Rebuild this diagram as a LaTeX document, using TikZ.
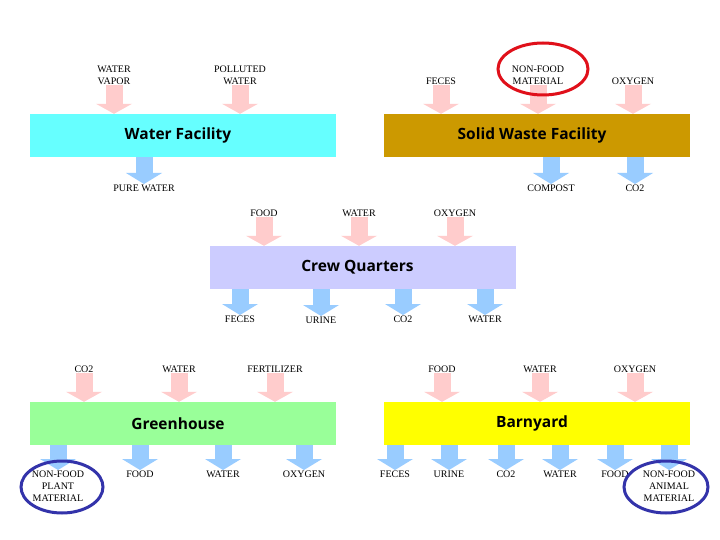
\documentclass[tikz,border=0pt]{standalone}
\usepackage{fontspec}
\setmainfont{Liberation Serif}
\newfontfamily\titlefont{Open Sans}
\usetikzlibrary{arrows.meta}

\definecolor{inpink}{RGB}{255,204,204}
\definecolor{outblue}{RGB}{153,204,255}
\definecolor{watercyan}{RGB}{102,255,255}
\definecolor{wastebrown}{RGB}{204,153,0}
\definecolor{crewlilac}{RGB}{204,204,255}
\definecolor{greenlight}{RGB}{153,255,153}
\definecolor{barnyellow}{RGB}{255,255,0}
\definecolor{ringred}{RGB}{224,16,26}
\definecolor{ringblue}{RGB}{51,51,170}

\tikzset{
  facility/.style={minimum width=306pt, minimum height=43pt, inner sep=0pt,
    font=\titlefont\bfseries\fontsize{15.5}{18}\selectfont},
  inlabel/.style={anchor=south, align=center, inner sep=0.5pt,
    font=\fontsize{10}{12}\selectfont},
  outlabel/.style={anchor=north, align=center, inner sep=0.5pt,
    font=\fontsize{10}{12}\selectfont},
  inflow/.style={color=inpink, line width=17pt,
    -{Triangle[width=36pt,length=10pt,line width=0pt]}},
  outflow/.style={color=outblue, line width=17pt,
    -{Triangle[width=36pt,length=11pt,line width=0pt]}},
  ring/.style={line width=3pt}
}
% title set a little left of the box centre
\newcommand{\boxtitle}[1]{\kern-10pt#1}

\begin{document}
\begin{tikzpicture}[x=1pt,y=-1pt]
\useasboundingbox (0,0) rectangle (720,540);
\fill[white] (0,0) rectangle (720,540);

% facilities
\node[facility, fill=watercyan] (wf) at (183,135.5) {\boxtitle{Water Facility}};
\node[facility, fill=wastebrown] (swf) at (537,135.5) {\boxtitle{Solid Waste Facility}};
\node[facility, fill=crewlilac] (cq) at (362.5,267.5) {\boxtitle{Crew Quarters}};
\node[facility, fill=greenlight] (gh) at (183,423.5) {\boxtitle{Greenhouse}};
\node[facility, fill=barnyellow] (by) at (537,423.5) {\boxtitle{Barnyard}};

% water facility
\node[inlabel] (wfvapor) at (114,85) {WATER\\VAPOR};
\node[inlabel] (wfpolluted) at (240,85) {POLLUTED\\WATER};
\node[outlabel] (wfpure) at (144,184) {PURE WATER};
\draw[inflow] (wfvapor.south) -- (wfvapor.south |- wf.north);
\draw[inflow] (wfpolluted.south) -- (wfpolluted.south |- wf.north);
\draw[outflow] (wfpure.north |- wf.south) -- (wfpure.north);

% solid waste facility
\node[inlabel] (swfeces) at (441,85) {FECES};
\node[inlabel] (swnonfood) at (538,85) {NON-FOOD\\MATERIAL};
\node[inlabel] (swoxygen) at (633,85) {OXYGEN};
\node[outlabel] (swcompost) at (551,184) {COMPOST};
\node[outlabel] (swco) at (635,184) {CO2};
\draw[inflow] (swfeces.south) -- (swfeces.south |- swf.north);
\draw[inflow] (swnonfood.south) -- (swnonfood.south |- swf.north);
\draw[inflow] (swoxygen.south) -- (swoxygen.south |- swf.north);
\draw[outflow] (swcompost.north |- swf.south) -- (swcompost.north);
\draw[outflow] (swco.north |- swf.south) -- (swco.north);

% crew quarters
\node[inlabel] (cqfood) at (264,217) {FOOD};
\node[inlabel] (cqwater) at (359,217) {WATER};
\node[inlabel] (cqoxygen) at (455,217) {OXYGEN};
\node[outlabel] (cqfeces) at (240,315) {FECES};
\node[outlabel] (cqurine) at (321,316) {URINE};
\node[outlabel] (cqco) at (403,315) {CO2};
\node[outlabel] (cqwaterout) at (485,315) {WATER};
\draw[inflow] (cqfood.south) -- (cqfood.south |- cq.north);
\draw[inflow] (cqwater.south) -- (cqwater.south |- cq.north);
\draw[inflow] (cqoxygen.south) -- (cqoxygen.south |- cq.north);
\draw[outflow] (cqfeces.north |- cq.south) -- (cqfeces.north);
\draw[outflow] (cqurine.north |- cq.south) -- (cqurine.north);
\draw[outflow] (cqco.north |- cq.south) -- (cqco.north);
\draw[outflow] (cqwaterout.north |- cq.south) -- (cqwaterout.north);

% greenhouse
\node[inlabel] (ghco) at (84,373) {CO2};
\node[inlabel] (ghwater) at (179,373) {WATER};
\node[inlabel] (ghfert) at (275,373) {FERTILIZER};
\node[outlabel] (ghnonfood) at (58,470) {NON-FOOD\\PLANT\\MATERIAL};
\node[outlabel] (ghfood) at (140,470) {FOOD};
\node[outlabel] (ghwaterout) at (223,470) {WATER};
\node[outlabel] (ghoxygen) at (304,470) {OXYGEN};
\draw[inflow] (ghco.south) -- (ghco.south |- gh.north);
\draw[inflow] (ghwater.south) -- (ghwater.south |- gh.north);
\draw[inflow] (ghfert.south) -- (ghfert.south |- gh.north);
\draw[outflow] (ghnonfood.north |- gh.south) -- (ghnonfood.north);
\draw[outflow] (ghfood.north |- gh.south) -- (ghfood.north);
\draw[outflow] (ghwaterout.north |- gh.south) -- (ghwaterout.north);
\draw[outflow] (ghoxygen.north |- gh.south) -- (ghoxygen.north);

% barnyard
\node[inlabel] (byfood) at (442,373) {FOOD};
\node[inlabel] (bywater) at (540,373) {WATER};
\node[inlabel] (byoxygen) at (635,373) {OXYGEN};
\node[outlabel] (byfeces) at (395,470) {FECES};
\node[outlabel] (byurine) at (449,470) {URINE};
\node[outlabel] (byco) at (506,470) {CO2};
\node[outlabel] (bywaterout) at (560,470) {WATER};
\node[outlabel] (byfoodout) at (615,470) {FOOD};
\node[outlabel] (bynonfood) at (669,470) {NON-FOOD\\ANIMAL\\MATERIAL};
\draw[inflow] (byfood.south) -- (byfood.south |- by.north);
\draw[inflow] (bywater.south) -- (bywater.south |- by.north);
\draw[inflow] (byoxygen.south) -- (byoxygen.south |- by.north);
\draw[outflow] (byfeces.north |- by.south) -- (byfeces.north);
\draw[outflow] (byurine.north |- by.south) -- (byurine.north);
\draw[outflow] (byco.north |- by.south) -- (byco.north);
\draw[outflow] (bywaterout.north |- by.south) -- (bywaterout.north);
\draw[outflow] (byfoodout.north |- by.south) -- (byfoodout.north);
\draw[outflow] (bynonfood.north |- by.south) -- (bynonfood.north);

% highlights
\draw[ring, ringred] (543,69) ellipse [x radius=45pt, y radius=26pt];
\draw[ring, ringblue] (62,487) ellipse [x radius=41pt, y radius=26pt];
\draw[ring, ringblue] (666,487) ellipse [x radius=42pt, y radius=26pt];
\end{tikzpicture}
\end{document}
